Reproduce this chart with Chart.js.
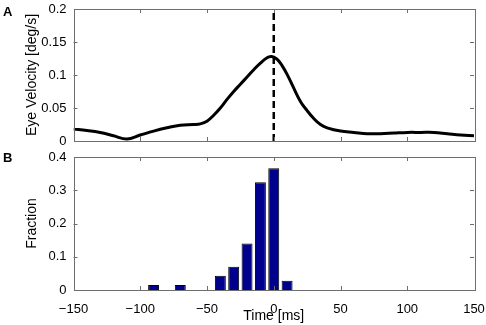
<!DOCTYPE html>
<html>
<head>
<meta charset="utf-8">
<script src="https://cdn.jsdelivr.net/npm/chart.js@4"></script>
<style>
  html, body { margin: 0; padding: 0; background: #fff; }
  #wrap { position: relative; width: 486px; height: 325px; overflow: hidden; }
  canvas { position: absolute; left: 0; }
  #ca { top: 0; }
  #cb { top: 149px; }
  .lab { position: absolute; font: bold 13px "Liberation Sans", Arial, sans-serif; color: #000; line-height: 13px; }
</style>
</head>
<body>
<div id="wrap">
  <canvas id="ca" width="486" height="149"></canvas>
  <canvas id="cb" width="486" height="176"></canvas>
  <div class="lab" style="left:3px;top:5px;">A</div>
  <div class="lab" style="left:3px;top:151px;">B</div>
</div>
<script>
// ---- Data ----
const velTime = [-150,-140,-130,-120,-110,-100,-90,-80,-70,-60,-55,-50,-45,-40,-35,-30,-25,-20,-15,-10,-5,-2,0,3,6,10,15,20,25,30,35,40,50,60,70,80,90,100,110,120,130,140,150];
const velValue = [0.018,0.016,0.013,0.008,0.003,0.009,0.015,0.020,0.024,0.025,0.026,0.030,0.039,0.050,0.063,0.075,0.086,0.097,0.108,0.118,0.126,0.128,0.127,0.123,0.115,0.101,0.080,0.060,0.046,0.034,0.025,0.020,0.015,0.013,0.011,0.011,0.012,0.013,0.013,0.013,0.011,0.009,0.008];
const markerTime = [0, 0];
const markerValue = [0, 0.2];
const binTime = [-90,-70,-40,-30,-20,-10,0,10];
const binFraction = [0.015,0.015,0.043,0.070,0.140,0.324,0.366,0.028];
const xTicks = [-150,-100,-50,0,50,100,150];

const FONT = '"Liberation Sans", Arial, Helvetica, sans-serif';
const AXIS = '#6e6e6e';
const fmt = v => { const n = Number(Number(v).toFixed(3)); return n < 0 ? '\u2212' + Math.abs(n) : String(n); };

// inward ticks + box
const boxPlugin = {
  id: 'box',
  afterDraw(chart) {
    const ctx = chart.ctx, a = chart.chartArea;
    const xs = chart.scales.x, ys = chart.scales.y;
    ctx.save();
    ctx.strokeStyle = AXIS;
    ctx.lineWidth = 1;
    ctx.strokeRect(Math.round(a.left) + 0.5, Math.round(a.top) + 0.5, Math.round(a.right - a.left), Math.round(a.bottom - a.top));
    const L = 4;
    ctx.beginPath();
    xs.ticks.forEach(t => {
      const p = Math.round(xs.getPixelForValue(t.value)) + 0.5;
      if (p <= a.left + 1 || p >= a.right - 1) return;
      ctx.moveTo(p, a.bottom); ctx.lineTo(p, a.bottom - L);
      ctx.moveTo(p, a.top); ctx.lineTo(p, a.top + L);
    });
    ys.ticks.forEach(t => {
      const p = Math.round(ys.getPixelForValue(t.value)) + 0.5;
      if (p <= a.top + 1 || p >= a.bottom - 1) return;
      ctx.moveTo(a.left, p); ctx.lineTo(a.left + L, p);
      ctx.moveTo(a.right, p); ctx.lineTo(a.right - L, p);
    });
    ctx.stroke();
    ctx.restore();
  }
};

function xScale(showLabels, h) {
  return {
    type: 'linear', min: -150, max: 150, offset: false,
    afterBuildTicks: s => { s.ticks = xTicks.map(v => ({ value: v })); },
    afterFit: s => { s.height = h; },
    grid: { display: false, drawTicks: true, tickLength: 12, tickColor: 'rgba(0,0,0,0)', offset: false },
    border: { display: false },
    ticks: { display: showLabels, color: '#000', font: { family: FONT, size: 13 }, padding: 0, callback: fmt, maxRotation: 0, autoSkip: false },
    title: { display: showLabels, text: 'Time [ms]', color: '#000', font: { family: FONT, size: 14 }, padding: { top: -3, bottom: 0 } }
  };
}
function yScale(max, step, title) {
  return {
    type: 'linear', min: 0, max: max,
    afterFit: s => { s.width = 73.5; },
    grid: { display: false, drawTicks: true, tickLength: 7, tickColor: 'rgba(0,0,0,0)' },
    border: { display: false },
    ticks: { stepSize: step, color: '#000', font: { family: FONT, size: 13 }, padding: 0, callback: fmt },
    title: { display: true, text: title, color: '#000', font: { family: FONT, size: 14 }, padding: { top: 24, bottom: 0 } }
  };
}

Chart.defaults.animation = false;

new Chart(document.getElementById('ca'), {
  type: 'line',
  data: {
    datasets: [
      { data: velTime.map((t, i) => ({ x: t, y: velValue[i] })), borderColor: '#000', borderWidth: 3, pointRadius: 0, tension: 0.4, fill: false },
      { data: markerTime.map((t, i) => ({ x: t, y: markerValue[i] })), borderColor: '#000', borderWidth: 2.5, borderDash: [7, 4], pointRadius: 0, fill: false }
    ]
  },
  options: {
    responsive: false,
    layout: { padding: { top: 9, right: 12, bottom: 0, left: 0 } },
    plugins: { legend: { display: false }, tooltip: { enabled: false } },
    scales: { x: xScale(false, 8), y: yScale(0.2, 0.05, 'Eye Velocity [deg/s]') }
  },
  plugins: [boxPlugin]
});

new Chart(document.getElementById('cb'), {
  type: 'bar',
  data: {
    datasets: [
      { data: binTime.map((t, i) => ({ x: t, y: binFraction[i] })), backgroundColor: '#00008f', borderColor: '#000', borderWidth: 1, categoryPercentage: 1, barPercentage: 0.82 }
    ]
  },
  options: {
    responsive: false,
    layout: { padding: { top: 8, right: 12, bottom: 0, left: 0 } },
    plugins: { legend: { display: false }, tooltip: { enabled: false } },
    scales: { x: xScale(true, 35), y: yScale(0.4, 0.1, 'Fraction') }
  },
  plugins: [boxPlugin]
});
</script>
</body>
</html>
